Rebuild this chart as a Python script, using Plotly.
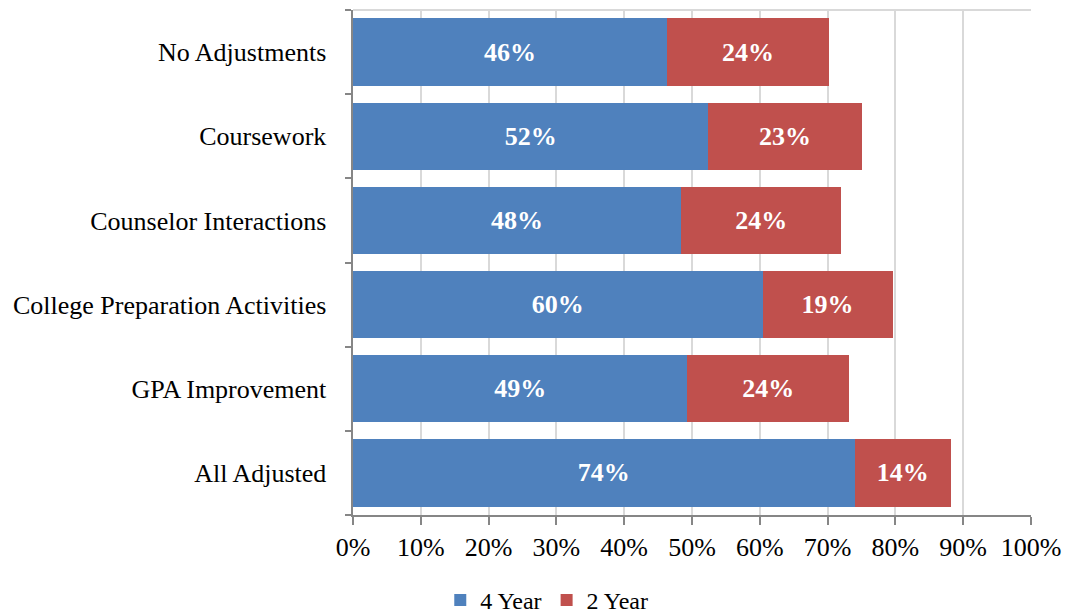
import plotly.graph_objects as go

categories = ["No Adjustments", "Coursework", "Counselor Interactions",
              "College Preparation Activities", "GPA Improvement", "All Adjusted"]
four_year = [46.3, 52.4, 48.4, 60.4, 49.3, 74.0]
two_year = [23.9, 22.6, 23.6, 19.2, 23.9, 14.2]
tick_vals = [0, 10, 20, 30, 40, 50, 60, 70, 80, 90, 100]
tick_text = [f"{v}%" for v in tick_vals]

FONT = "'Liberation Serif', 'DejaVu Serif', 'Times New Roman', serif"

fig = go.Figure()
fig.add_trace(go.Bar(
    y=categories, x=four_year, name="4 Year", orientation="h",
    marker=dict(color="#4F81BD", line=dict(width=0)),
    texttemplate="%{x:.0f}%", textposition="inside", insidetextanchor="middle",
    textfont=dict(family=FONT, size=26, color="white", weight="bold"),
))
fig.add_trace(go.Bar(
    y=categories, x=two_year, name="2 Year", orientation="h",
    marker=dict(color="#C0504D", line=dict(width=0)),
    texttemplate="%{x:.0f}%", textposition="inside", insidetextanchor="middle",
    textfont=dict(family=FONT, size=26, color="white", weight="bold"),
))

fig.update_layout(
    barmode="stack",
    bargap=0.2,
    width=1070, height=614,
    margin=dict(l=353, r=39, t=10, b=99),
    plot_bgcolor="white", paper_bgcolor="white",
    font=dict(family=FONT, size=26, color="black"),
    xaxis=dict(
        range=[0, 100], tickvals=tick_vals, ticktext=tick_text,
        showgrid=True, gridcolor="#D9D9D9", gridwidth=1.5,
        showline=True, linecolor="#868686", linewidth=2,
        ticks="outside", ticklen=8, tickcolor="#868686", tickwidth=1.5,
        tickfont=dict(family=FONT, size=26), zeroline=False,
    ),
    yaxis=dict(
        categoryorder="array", categoryarray=categories[::-1],
        showline=True, linecolor="#868686", linewidth=2,
        ticks="outside", tickson="boundaries", ticklen=6, tickcolor="#868686", tickwidth=1.5,
        tickfont=dict(family=FONT, size=26), showgrid=False,
        ticksuffix="   ",
    ),
    legend=dict(
        orientation="h", xref="container", yref="container",
        x=0.511, y=0.022, xanchor="center", yanchor="middle",
        font=dict(family=FONT, size=24), itemwidth=30,
        traceorder="normal",
    ),
    shapes=[dict(type="line", xref="paper", yref="paper", x0=0, x1=1, y0=1, y1=1,
                 line=dict(color="#D9D9D9", width=2))],
)

fig.write_html("out.html")
